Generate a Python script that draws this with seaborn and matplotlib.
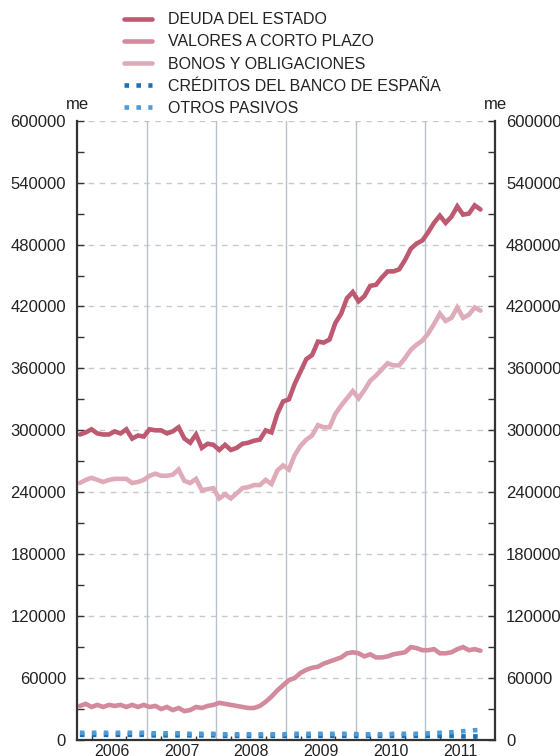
import numpy as np
import pandas as pd
import matplotlib
matplotlib.use("Agg")
import matplotlib.pyplot as plt
from matplotlib.ticker import MultipleLocator, FixedLocator, NullFormatter
import seaborn as sns

# Monthly series, January 2006 to October 2011 (thousands of millions shown as units)
start_year = 2006
n_months = 70

deuda_estado = [
    296, 298, 301, 297, 296, 296, 299, 297, 301, 292, 295, 294,
    301, 300, 300, 297, 299, 303, 292, 288, 296, 283, 287, 286,
    281, 286, 281, 283, 287, 288, 290, 291, 300, 298, 316, 328,
    330, 345, 357, 369, 373, 386, 385, 388, 404, 413, 428, 434,
    425, 430, 440, 441, 448, 454, 454, 456, 465, 476, 481, 484,
    492, 501, 508, 501, 507, 517, 509, 510, 518, 514,
]
valores_corto_plazo = [
    33, 35, 32, 34, 32, 34, 33, 34, 32, 34, 32, 34,
    32, 33, 30, 32, 29, 31, 28, 29, 32, 31, 33, 34,
    36, 35, 34, 33, 32, 31, 31, 33, 37, 42, 48, 53,
    58, 60, 65, 68, 70, 71, 74, 76, 78, 80, 84, 85,
    84, 81, 83, 80, 80, 81, 83, 84, 85, 90, 89, 87,
    87, 88, 84, 84, 85, 88, 90, 87, 88, 86.5,
]
bonos_obligaciones = [
    249, 252, 254, 252, 250, 252, 253, 253, 253, 249, 250, 252,
    256, 258, 256, 256, 257, 262, 251, 249, 253, 242, 243, 244,
    234, 238, 234, 239, 244, 245, 247, 247, 252, 248, 261, 266,
    262, 276, 285, 291, 295, 305, 303, 303, 316, 324, 331, 338,
    331, 339, 348, 353, 359, 365, 363, 363, 370, 378, 383, 387,
    394, 403, 413, 406, 409, 419, 409, 412, 419, 416,
]
creditos_banco_espana = [
    5, 5, 5, 5, 5, 5, 5, 5, 5, 5, 5, 5,
    4.5, 4.5, 4.5, 4.5, 4.5, 4.5, 4.5, 4.5, 4.5, 4.5, 4.5, 4.5,
    4, 4, 4, 4, 4, 4, 4, 4, 4, 4, 4, 4,
    4, 4, 4, 4, 4, 4, 4, 4, 4, 4, 4, 4,
    4, 4, 4, 4, 4, 4, 4, 4, 4, 4, 4, 4,
    4, 4, 4, 4, 4, 4, 3.5, 3.5, 3.5, 3.5,
]
otros_pasivos = [
    7, 7, 7, 7, 7, 7, 7, 7, 7, 7, 7, 7,
    6.5, 6.5, 6.5, 6.5, 6.5, 6.5, 6, 6, 6, 6, 6, 6,
    5.5, 5.5, 5.5, 5.5, 5.5, 5.5, 5.5, 5.5, 5.5, 5.5, 5.5, 5.5,
    6, 6, 6, 6, 6, 6, 6, 6, 6, 6, 6, 6,
    5.5, 5.5, 5.5, 5.5, 5.5, 5.5, 6, 6, 6, 6, 6, 6,
    6.5, 6.5, 7, 7, 7.5, 8, 8.5, 9, 9.5, 9.5,
]

series_labels = [
    "DEUDA DEL ESTADO",
    "VALORES A CORTO PLAZO",
    "BONOS Y OBLIGACIONES",
    "CRÉDITOS DEL BANCO DE ESPAÑA",
    "OTROS PASIVOS",
]
series_values = [deuda_estado, valores_corto_plazo, bonos_obligaciones,
                 creditos_banco_espana, otros_pasivos]
series_colors = ["#bd5a72", "#d28a9c", "#dfabb8", "#1d6fb4", "#4c9bd6"]
dotted = [False, False, False, True, True]

year_labels = ["2006", "2007", "2008", "2009", "2010", "2011"]
y_ticks = [0, 60000, 120000, 180000, 240000, 300000, 360000,
           420000, 480000, 540000, 600000]

# decimal-year position of each monthly observation (mid-month)
x_pos = start_year + (np.arange(n_months) + 0.5) / 12.0

sns.set_theme(style="white")
plt.rcParams["font.family"] = ["Liberation Sans", "DejaVu Sans"]
plt.rcParams["text.color"] = "#222222"

fig = plt.figure(figsize=(5.6, 7.56), dpi=100)
ax = fig.add_axes([77 / 560, 1 - 740 / 756, (495 - 77) / 560, (740 - 120.7) / 756])

handles = []
for lab, vals, col, dot in zip(series_labels, series_values, series_colors, dotted):
    df = pd.DataFrame({"x": x_pos, "y": np.asarray(vals, dtype=float) * 1000})
    sns.lineplot(data=df, x="x", y="y", color=col, linewidth=3.3, label=lab,
                 ax=ax, legend=False)
    line = ax.get_lines()[-1]
    if dot:
        line.set_linestyle((0, (1, 1.6)))
        line.set_dash_capstyle("butt")
    else:
        line.set_solid_joinstyle("miter")
    handles.append(line)

ax.set_xlim(start_year, start_year + 6)
ax.set_ylim(0, 600000)
ax.set_xlabel("")
ax.set_ylabel("")

# y axis: labels every 60000, inward ticks every 30000 on both sides
ax.yaxis.set_major_locator(FixedLocator(y_ticks))
ax.yaxis.set_minor_locator(MultipleLocator(30000))
ax.set_yticklabels([str(v) for v in y_ticks])
ax.tick_params(axis="y", which="both", direction="in", left=True, right=True,
               labelleft=True, labelright=True, length=5, width=1.0,
               color="#333333", labelsize=12, labelcolor="#222222")
ax.tick_params(axis="y", which="major", pad=8)

# x axis: year names centred in each year, small ticks every six months
ax.xaxis.set_major_locator(FixedLocator([start_year + k + 0.5 for k in range(6)]))
ax.set_xticklabels(year_labels)
ax.xaxis.set_minor_locator(FixedLocator([start_year + (2.5 + 6 * k) / 12 for k in range(12)]))
ax.xaxis.set_minor_formatter(NullFormatter())
ax.tick_params(axis="x", which="major", length=0, labelsize=11.5, pad=3,
               labelcolor="#222222")
ax.tick_params(axis="x", which="minor", direction="in", length=3, width=1.0,
               color="#333333", bottom=True)

# horizontal dashed grid and vertical year separators
for v in y_ticks[1:]:
    ax.axhline(v, color="#c9c9c9", linewidth=1.0, linestyle=(0, (4, 4)), zorder=0)
for k in range(1, 6):
    ax.axvline(start_year + k, color="#b9c1cc", linewidth=1.0, zorder=0)

for side in ["left", "right", "bottom"]:
    ax.spines[side].set_visible(True)
    ax.spines[side].set_color("#333333")
    ax.spines[side].set_linewidth(1.6)
ax.spines["top"].set_visible(False)

# unit labels above both vertical axes
for xf in (0, 1):
    ax.annotate("me", xy=(xf, 1), xycoords="axes fraction", xytext=(0, 6),
                textcoords="offset points", ha="center", va="bottom",
                fontsize=12, color="#222222")

fig.legend(handles, series_labels, loc="upper left",
           bbox_to_anchor=(121 / 560, 1 - 9 / 756), frameon=False,
           fontsize=11.5, handlelength=1.75, handletextpad=1.0,
           labelspacing=0.45, borderaxespad=0, borderpad=0.2)

fig.savefig("out.png", dpi=100)
